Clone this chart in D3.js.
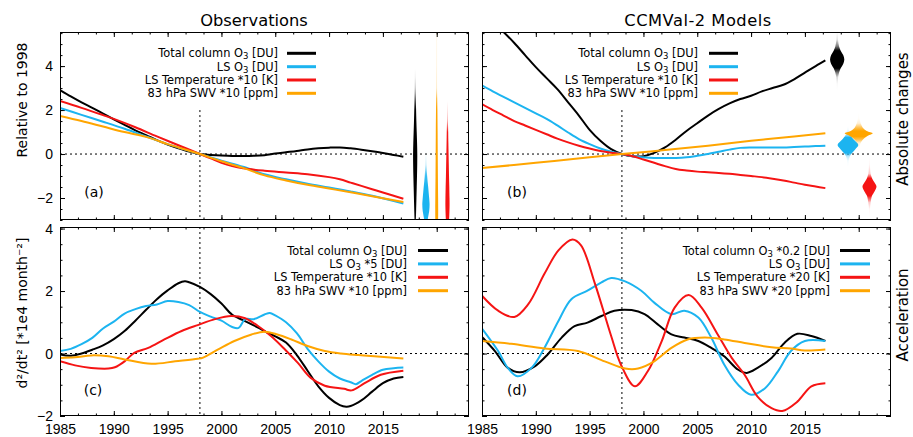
<!DOCTYPE html>
<html>
<head>
<meta charset="utf-8">
<style>
  body { margin: 0; background: #fff; }
  text { font-family: "DejaVu Sans", sans-serif; fill: #000; white-space: pre; }
  .tick text { font-family: "Liberation Sans", Arial, sans-serif; }
</style>
</head>
<body>
<script src="https://cdn.jsdelivr.net/npm/d3@7"></script>
<script>

// ---- data ----
// (a) observations, change relative to 1998
var obsToz  = [[1985,2.91],[1986,2.62],[1987,2.35],[1988,2.1],[1989,1.84],[1990,1.58],[1991,1.33],[1992,1.08],[1993,0.86],[1994,0.63],[1995,0.43],[1996,0.26],[1997,0.11],[1998,0],[1999,-0.04],[2000,-0.07],[2001,-0.09],[2002,-0.09],[2003,-0.08],[2004,-0.05],[2005,0.02],[2006,0.08],[2007,0.14],[2008,0.21],[2009,0.26],[2010,0.29],[2011,0.3],[2012,0.26],[2013,0.2],[2014,0.13],[2015,0.05],[2016,-0.04],[2016.9,-0.12]];
var obsLso3 = [[1985,2.1],[1987,1.78],[1989,1.47],[1991,1.15],[1993,0.8],[1995,0.45],[1996,0.3],[1997,0.15],[1998,0],[2000,-0.3],[2002,-0.58],[2004,-0.92],[2006,-1.15],[2008,-1.35],[2010,-1.52],[2012,-1.7],[2014,-1.9],[2016.9,-2.25]];
var obsLst  = [[1985,2.41],[1987,2.1],[1989,1.77],[1990,1.6],[1992,1.22],[1994,0.8],[1996,0.4],[1998,0],[1999,-0.2],[2000,-0.4],[2001,-0.55],[2002,-0.65],[2004,-0.76],[2006,-0.84],[2008,-0.92],[2010,-1.05],[2011,-1.15],[2012,-1.3],[2013,-1.45],[2014,-1.6],[2015,-1.75],[2016.9,-2.03]];
var obsSwv  = [[1985,1.73],[1987,1.5],[1989,1.25],[1991,1.0],[1993,0.78],[1995,0.45],[1996,0.3],[1997,0.15],[1998,0],[2000,-0.33],[2002,-0.63],[2004,-0.97],[2006,-1.2],[2008,-1.4],[2010,-1.57],[2012,-1.74],[2014,-1.92],[2016.9,-2.18]];

// (b) CCMVal-2 models, change relative to 1998
var modToz  = [[1985,6.45],[1986,6.0],[1987,5.55],[1988,5.05],[1989,4.5],[1990,3.95],[1991,3.45],[1992,2.95],[1993,2.35],[1994,1.75],[1995,1.1],[1996,0.6],[1997,0.22],[1998,0],[1999,-0.1],[2000,-0.1],[2001,0.05],[2002,0.3],[2003,0.65],[2004,1.05],[2005,1.4],[2006,1.75],[2007,2.05],[2008,2.3],[2009,2.5],[2010,2.65],[2011,2.85],[2012,3.0],[2013,3.15],[2014,3.4],[2015,3.7],[2016,4.0],[2016.9,4.26]];
var modLso3 = [[1985,3.12],[1986,2.85],[1987,2.6],[1988,2.35],[1989,2.1],[1990,1.85],[1991,1.6],[1992,1.3],[1993,0.98],[1994,0.68],[1995,0.45],[1996,0.25],[1997,0.1],[1998,0],[1999,-0.1],[2000,-0.15],[2001,-0.18],[2002,-0.18],[2003,-0.18],[2004,-0.15],[2005,-0.08],[2006,0],[2007,0.1],[2008,0.2],[2009,0.28],[2010,0.3],[2011,0.3],[2012,0.3],[2013,0.3],[2014,0.32],[2015,0.34],[2016,0.36],[2016.9,0.38]];
var modLst  = [[1985,2.27],[1986,2.0],[1987,1.75],[1988,1.5],[1989,1.3],[1990,1.1],[1991,0.9],[1992,0.7],[1993,0.53],[1994,0.38],[1995,0.25],[1996,0.14],[1997,0.06],[1998,0],[1999,-0.1],[2000,-0.25],[2001,-0.4],[2002,-0.55],[2003,-0.68],[2004,-0.75],[2005,-0.8],[2006,-0.83],[2007,-0.86],[2008,-0.9],[2009,-0.95],[2010,-1.0],[2011,-1.05],[2012,-1.12],[2013,-1.2],[2014,-1.3],[2015,-1.4],[2016,-1.48],[2016.9,-1.55]];
var modSwv  = [[1985,-0.64],[1990,-0.4],[1995,-0.15],[1998,0],[2002,0.18],[2006,0.38],[2010,0.6],[2014,0.8],[2016.9,0.95]];

// (c) observations, acceleration
var accObsToz  = [[1985,-0.03],[1986,-0.07],[1987,0],[1988,0.12],[1989,0.26],[1990,0.46],[1991,0.72],[1992,1.05],[1993,1.4],[1994,1.74],[1995,2.02],[1996,2.25],[1996.6,2.31],[1997,2.28],[1998,2.13],[1999,1.9],[2000,1.6],[2001,1.24],[2002,1.07],[2003,0.9],[2004,0.72],[2005,0.55],[2006,0.35],[2007,-0.05],[2008,-0.55],[2009,-1.05],[2010,-1.42],[2011,-1.65],[2011.6,-1.7],[2012,-1.68],[2013,-1.5],[2014,-1.22],[2015,-0.95],[2016,-0.8],[2016.9,-0.75]];
var accObsLso3 = [[1985,0.08],[1986,0.15],[1987,0.3],[1988,0.5],[1989,0.8],[1990,1.02],[1991,1.28],[1992,1.42],[1993,1.52],[1994,1.57],[1995,1.68],[1996,1.65],[1997,1.55],[1998,1.33],[1999,1.18],[2000,1.05],[2001,0.85],[2001.6,0.82],[2002.2,1.1],[2003,1.1],[2004,1.25],[2004.5,1.3],[2005,1.22],[2006,1.0],[2007,0.65],[2008,0.15],[2009,-0.25],[2010,-0.58],[2011,-0.8],[2012,-0.92],[2012.5,-0.98],[2013,-0.88],[2014,-0.68],[2015,-0.52],[2016,-0.47],[2016.9,-0.45]];
var accObsLst  = [[1985,-0.25],[1986.4,-0.38],[1987.9,-0.46],[1989.5,-0.48],[1990.1,-0.44],[1991,-0.25],[1991.9,0.02],[1993.2,0.18],[1994.7,0.45],[1996.3,0.72],[1997.8,0.91],[1999.4,1.1],[2000.9,1.2],[2002.2,1.13],[2003.4,0.88],[2004.6,0.56],[2005.9,0.13],[2007.1,-0.3],[2008.3,-0.78],[2009.6,-1.03],[2011.4,-1.13],[2012.1,-1.18],[2013.3,-0.95],[2014.8,-0.68],[2016.9,-0.55]];
var accObsSwv  = [[1985,-0.14],[1986.4,-0.12],[1987.9,-0.06],[1989.5,-0.09],[1991,-0.19],[1993.5,-0.33],[1995.7,-0.25],[1997.8,-0.17],[1998.3,-0.13],[1999.7,0.13],[2001.2,0.4],[2002.8,0.61],[2004,0.7],[2005.2,0.61],[2006.5,0.45],[2008,0.24],[2009.6,0.08],[2011.1,0],[2012.7,-0.05],[2014.2,-0.09],[2016.9,-0.16]];

// (d) CCMVal-2 models, acceleration
var accModToz  = [[1985,0.53],[1986.2,0.08],[1987.4,-0.46],[1988.5,-0.6],[1989.9,-0.41],[1991.1,-0.03],[1992.4,0.51],[1993.6,0.88],[1994.8,0.99],[1996.1,1.2],[1997.3,1.37],[1998.9,1.39],[2000.1,1.26],[2001.3,0.94],[2002.6,0.61],[2003.8,0.51],[2005.1,0.4],[2006.3,0.18],[2007.5,-0.09],[2008.8,-0.52],[2009.6,-0.62],[2010.6,-0.46],[2011.9,-0.14],[2013.1,0.34],[2014.3,0.63],[2015.6,0.56],[2016.9,0.4]];
var accModLso3 = [[1985,0.8],[1986.5,0.08],[1987.4,-0.46],[1988.3,-0.73],[1989.6,-0.46],[1990.8,0.18],[1992.1,1.04],[1993.3,1.74],[1994.8,2.01],[1996.1,2.28],[1997,2.42],[1998.3,2.31],[1999.8,2.01],[2001,1.63],[2002.6,1.26],[2003.8,1.37],[2005.1,1.15],[2006.3,0.51],[2007.5,-0.35],[2008.8,-1.0],[2010,-1.32],[2011.3,-1.11],[2012.5,-0.57],[2013.7,0.08],[2015,0.4],[2016.9,0.4]];
var accModLst  = [[1985,1.85],[1986.5,1.37],[1988,1.17],[1989.3,1.58],[1990.8,2.55],[1992.1,3.3],[1993.4,3.65],[1994.2,3.46],[1995.5,2.23],[1997,0.56],[1997.9,-0.35],[1999.2,-1.05],[2000.4,-0.57],[2001.7,0.4],[2002.9,1.47],[2004.2,1.87],[2005.4,1.47],[2006.9,0.61],[2008.2,-0.14],[2009.4,-0.68],[2010.6,-1.38],[2011.9,-1.75],[2012.9,-1.84],[2014.3,-1.54],[2015.6,-1.05],[2016.9,-0.95]];
var accModSwv  = [[1985,0.4],[1987.7,0.31],[1990.8,0.16],[1993.9,0.08],[1996.4,-0.25],[1998.3,-0.48],[1999.5,-0.48],[2001,-0.25],[2002.6,0.18],[2004.1,0.45],[2005.7,0.51],[2007.5,0.45],[2009.4,0.34],[2011.9,0.2],[2013.7,0.16],[2015,0.1],[2016.9,0.13]];

// violins: [value, relative density]; order black, blue, orange, red
var violinYears = [2018, 2019, 2020, 2021];
var vObsToz  = [[3.9,0],[3.5,0.015],[3.0,0.03],[2.5,0.045],[2.0,0.065],[1.5,0.085],[1.0,0.11],[0.5,0.135],[0,0.15],[-0.5,0.145],[-1,0.13],[-1.5,0.11],[-2,0.09],[-2.5,0.07],[-3,0.05],[-3.5,0.03]];
var vObsLso3 = [[0.3,0],[0,0.02],[-0.5,0.045],[-1,0.085],[-1.5,0.16],[-2,0.23],[-2.3,0.26],[-2.6,0.23],[-3,0.12],[-3.5,0.05]];
var vObsSwv  = [[5.8,0.012],[5,0.012],[4,0.014],[3,0.02],[2.5,0.035],[2,0.05],[1,0.065],[0,0.075],[-1,0.085],[-2,0.1],[-2.5,0.105],[-3,0.1],[-3.5,0.08]];
var vObsLst  = [[2.4,0],[2,0.02],[1.5,0.032],[1.2,0.045],[1,0.052],[0.5,0.065],[0,0.08],[-0.5,0.095],[-1,0.11],[-1.5,0.13],[-2,0.145],[-2.3,0.15],[-2.6,0.14],[-3,0.115],[-3.5,0.07]];
var vModToz  = [[5.6,0],[5.2,0.06],[4.9,0.13],[4.7,0.25],[4.5,0.43],[4.3,0.51],[4.1,0.43],[3.9,0.25],[3.7,0.13],[3.5,0.07],[3.2,0.035],[2.9,0]];
var vModLso3 = [[1.3,0],[1.1,0.06],[0.9,0.14],[0.75,0.29],[0.6,0.5],[0.41,0.74],[0.2,0.5],[0.05,0.29],[-0.1,0.14],[-0.3,0.06],[-0.6,0]];
var vModSwv  = [[1.9,0],[1.6,0.06],[1.4,0.14],[1.2,0.29],[1.05,0.57],[0.94,1.0],[0.8,0.57],[0.65,0.29],[0.5,0.14],[0.35,0.06],[0.25,0]];
var vModLst  = [[-0.1,0],[-0.5,0.035],[-0.9,0.085],[-1.1,0.18],[-1.3,0.36],[-1.48,0.5],[-1.7,0.36],[-1.9,0.18],[-2.2,0.085],[-2.5,0.035],[-2.9,0]];

var legendAbs = ["Total column O_3_ [DU]", "LS O_3_ [DU]", "LS Temperature *10 [K]", "83 hPa SWV *10 [ppm]"];
var legendAccObs = ["Total column O_3_ [DU]", "LS O_3_ *5 [DU]", "LS Temperature *10 [K]", "83 hPa SWV *10 [ppm]"];
var legendAccMod = ["Total column O_3_ *0.2 [DU]", "LS O_3_ [DU]", "LS Temperature *20 [K]", "83 hPa SWV *20 [ppm]"];

var xMajor = [1985, 1990, 1995, 2000, 2005, 2010, 2015, 2020];
var yMajor = [-2, 0, 2, 4];
// series order: total O3, LS O3, LS temperature, SWV
var colors = ["#000000", "#1cb4f0", "#f51414", "#ffa500"];
var violinColors = [colors[0], colors[1], colors[3], colors[2]];

// ---- layout ----
var svg = d3.select("body").append("svg").attr("width", 913).attr("height", 437);

var xL = d3.scaleLinear().domain([1985, 2023]).range([60, 469]);
var xR = d3.scaleLinear().domain([1985, 2023]).range([482, 891]);
var yAbs = d3.scaleLinear().domain([-3, 5.55]).range([220, 32]);
var yAcc = d3.scaleLinear().domain([-2, 4.05]).range([416, 227]);
var wScale = d3.scaleLinear().domain([0, 1]).range([0, 14]);

var xMinor = d3.range(0, 23).map(function(i) { return 1985 + i * 5 / 3; }).filter(function(v) { return v <= 2023; });

function minorY(y) {
  var d = y.domain();
  return d3.range(Math.ceil(d[0] * 2), Math.floor(d[1] * 2) + 1).map(function(k) { return k / 2; });
}

function styleAxis(g, size) {
  g.select(".domain").remove();
  g.selectAll(".tick line").attr("stroke", "#000");
  g.selectAll(".tick text").style("font-size", size + "px").attr("fill", "#000");
}

function drawPanel(p) {
  var x = p.x, y = p.y;
  var x0 = x.range()[0], x1 = x.range()[1], yT = y.range()[1], yB = y.range()[0];
  var clipId = "clip-" + p.name;
  svg.append("clipPath").attr("id", clipId).append("rect")
    .attr("x", x0).attr("y", yT).attr("width", x1 - x0).attr("height", yB - yT);
  var g = svg.append("g");

  // axes: inner ticks on all four sides
  var fmtX = function(d) { return (p.xLabels && d <= 2015) ? d : ""; };
  var fmtY = p.yLabels ? d3.format("d") : function() { return ""; };
  g.append("g").attr("transform", "translate(0," + yB + ")")
    .call(d3.axisBottom(x).tickValues(xMajor).tickSize(-5).tickPadding(8).tickFormat(fmtX))
    .call(styleAxis, 14);
  g.append("g").attr("transform", "translate(0," + yB + ")")
    .call(d3.axisBottom(x).tickValues(xMinor).tickSize(-2.5).tickFormat(""))
    .call(styleAxis, 14);
  g.append("g").attr("transform", "translate(0," + yT + ")")
    .call(d3.axisTop(x).tickValues(xMajor).tickSize(-5).tickFormat(""))
    .call(styleAxis, 14);
  g.append("g").attr("transform", "translate(0," + yT + ")")
    .call(d3.axisTop(x).tickValues(xMinor).tickSize(-2.5).tickFormat(""))
    .call(styleAxis, 14);
  g.append("g").attr("transform", "translate(" + x0 + ",0)")
    .call(d3.axisLeft(y).tickValues(yMajor).tickSize(-5).tickPadding(7).tickFormat(fmtY))
    .call(styleAxis, 14);
  g.append("g").attr("transform", "translate(" + x0 + ",0)")
    .call(d3.axisLeft(y).tickValues(minorY(y)).tickSize(-2.5).tickFormat(""))
    .call(styleAxis, 14);
  g.append("g").attr("transform", "translate(" + x1 + ",0)")
    .call(d3.axisRight(y).tickValues(yMajor).tickSize(-5).tickFormat(""))
    .call(styleAxis, 14);
  g.append("g").attr("transform", "translate(" + x1 + ",0)")
    .call(d3.axisRight(y).tickValues(minorY(y)).tickSize(-2.5).tickFormat(""))
    .call(styleAxis, 14);

  // reference lines
  g.append("line").attr("x1", x0).attr("x2", x1).attr("y1", y(0)).attr("y2", y(0))
    .attr("stroke", "#000").attr("stroke-width", 1).attr("stroke-dasharray", "2,3");
  g.append("line").attr("x1", x(1998)).attr("x2", x(1998))
    .attr("y1", p.vTop !== undefined ? y(p.vTop) : yT).attr("y2", yB)
    .attr("stroke", "#000").attr("stroke-width", 1).attr("stroke-dasharray", "2,3");

  var plot = g.append("g").attr("clip-path", "url(#" + clipId + ")");

  // violins
  if (p.violins) {
    p.violins.forEach(function(v, i) {
      var xc = x(violinYears[i]);
      var peak = d3.max(v, function(d) { return d[1]; });
      var gid = "grad-" + p.name + i;
      var vmax = d3.max(v, function(d) { return d[0]; }), vmin = d3.min(v, function(d) { return d[0]; });
      var grad = svg.append("defs").append("linearGradient").attr("id", gid)
        .attr("gradientUnits", "userSpaceOnUse")
        .attr("x1", 0).attr("x2", 0).attr("y1", y(vmax)).attr("y2", y(vmin));
      v.forEach(function(d) {
        grad.append("stop")
          .attr("offset", (vmax - d[0]) / (vmax - vmin))
          .attr("stop-color", violinColors[i])
          .attr("stop-opacity", Math.min(1, Math.pow(d[1] / peak / 0.35, 2)));
      });
      var area = d3.area()
        .y(function(d) { return y(d[0]); })
        .x0(function(d) { return xc - Math.max(0.35, wScale(d[1])); })
        .x1(function(d) { return xc + Math.max(0.35, wScale(d[1])); })
        .curve(d3.curveCatmullRom);
      plot.append("path").datum(v).attr("d", area).attr("fill", "url(#" + gid + ")");
    });
  }

  // series
  var line = d3.line().x(function(d) { return x(d[0]); }).y(function(d) { return y(d[1]); })
    .curve(d3.curveCatmullRom);
  p.series.forEach(function(s, i) {
    plot.append("path").datum(s).attr("d", line)
      .attr("fill", "none").attr("stroke", colors[i]).attr("stroke-width", 2)
      .attr("stroke-linejoin", "round");
  });

  // frame
  g.append("rect").attr("x", x0 + 0.5).attr("y", yT + 0.5)
    .attr("width", x1 - x0 - 1).attr("height", yB - yT - 1)
    .attr("fill", "none").attr("stroke", "#000").attr("stroke-width", 1);

  // legend
  p.legend.forEach(function(lbl, i) {
    var ly = p.legRows[i];
    var t = g.append("text").attr("x", p.legText).attr("y", ly + 4)
      .attr("text-anchor", "end").style("font-size", "11.4px");
    lbl.split("_").forEach(function(part, k) {
      if (k % 2 === 1) {
        t.append("tspan").attr("dy", 2).style("font-size", "8.5px").text(part);
      } else {
        t.append("tspan").attr("dy", k > 0 ? -2 : 0).text(part);
      }
    });
    g.append("line").attr("x1", p.legLine[0]).attr("x2", p.legLine[1])
      .attr("y1", ly).attr("y2", ly).attr("stroke", colors[i]).attr("stroke-width", 3);
  });

  g.append("text").attr("x", p.tag[0]).attr("y", p.tag[1]).attr("text-anchor", "middle")
    .style("font-size", "14px").text(p.tagText);
}

var rowsTop = [53.3, 66.7, 80, 93.3];
var rowsBot = [250.5, 263.9, 277.3, 290.7];

drawPanel({ name: "a", x: xL, y: yAbs, series: [obsToz, obsLso3, obsLst, obsSwv],
  violins: [vObsToz, vObsLso3, vObsSwv, vObsLst], vTop: 2, yLabels: true, xLabels: false,
  legend: legendAbs, legRows: rowsTop, legText: 278, legLine: [287, 316], tag: [94, 197], tagText: "(a)" });
drawPanel({ name: "b", x: xR, y: yAbs, series: [modToz, modLso3, modLst, modSwv],
  violins: [vModToz, vModLso3, vModSwv, vModLst], vTop: 2, yLabels: false, xLabels: false,
  legend: legendAbs, legRows: rowsTop, legText: 698, legLine: [709, 738], tag: [517, 197], tagText: "(b)" });
drawPanel({ name: "c", x: xL, y: yAcc, series: [accObsToz, accObsLso3, accObsLst, accObsSwv],
  yLabels: true, xLabels: true,
  legend: legendAccObs, legRows: rowsBot, legText: 407, legLine: [418, 448], tag: [93, 395], tagText: "(c)" });
drawPanel({ name: "d", x: xR, y: yAcc, series: [accModToz, accModLso3, accModLst, accModSwv],
  yLabels: false, xLabels: true,
  legend: legendAccMod, legRows: rowsBot, legText: 830, legLine: [840, 870], tag: [517, 395], tagText: "(d)" });

// titles and axis labels
svg.append("text").attr("x", 254).attr("y", 26).attr("text-anchor", "middle").style("font-size", "16.3px").text("Observations");
svg.append("text").attr("x", 698).attr("y", 26).attr("text-anchor", "middle").style("font-size", "16.3px").style("letter-spacing", "0.5px").text("CCMVal-2 Models");
svg.append("text").attr("transform", "translate(27,100) rotate(-90)").attr("text-anchor", "middle").style("font-size", "14px").text("Relative to 1998");
svg.append("text").attr("transform", "translate(27,313) rotate(-90)").attr("text-anchor", "middle").style("font-size", "14px").text("d²/dt² [*1e4 month⁻²]");
svg.append("text").attr("transform", "translate(908,119) rotate(-90)").attr("text-anchor", "middle").style("font-size", "15px").text("Absolute changes");
svg.append("text").attr("transform", "translate(908,315) rotate(-90)").attr("text-anchor", "middle").style("font-size", "15px").text("Acceleration");
</script>
</body>
</html>
